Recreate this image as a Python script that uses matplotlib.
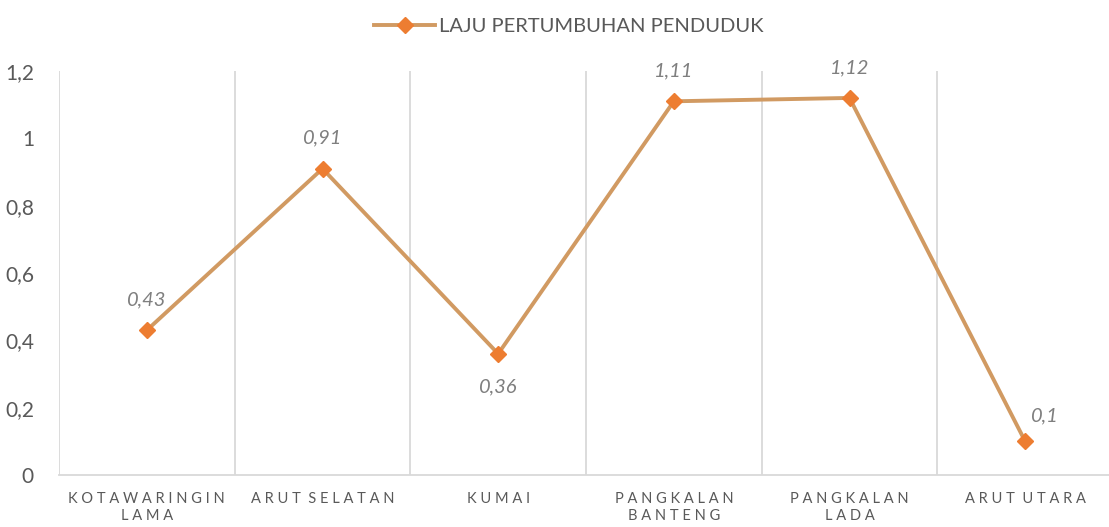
import matplotlib.pyplot as plt
from matplotlib.ticker import FixedLocator, FuncFormatter

plt.rcParams['font.family'] = ['Lato', 'DejaVu Sans']

categories = ['KOTAWARINGIN\nLAMA', 'ARUT SELATAN', 'KUMAI',
              'PANGKALAN\nBANTENG', 'PANGKALAN\nLADA', 'ARUT UTARA']
values = [0.43, 0.91, 0.36, 1.11, 1.12, 0.1]
series_name = 'LAJU PERTUMBUHAN PENDUDUK'

# label offsets in points (dx, dy)
label_offsets = [(0, 22), (0, 22), (0, -24), (0, 22), (0, 22), (14, 18)]

line_color = '#D19A62'
marker_color = '#ED7D31'
text_color = '#595959'
grid_color = '#D9D9D9'


def spaced(s):
    # mimic Excel's wide letter spacing
    return '\n'.join(' '.join(list(part)).replace('   ', '  ') for part in s.split('\n'))


fig = plt.figure(figsize=(11.09, 5.27), dpi=100)
ax = fig.add_axes([59 / 1109, 1 - 475 / 527, 1054 / 1109, 404 / 527])

x = list(range(len(values)))
ax.plot(x, values, color=line_color, lw=2.8, marker='D', ms=8,
        mfc=marker_color, mec=marker_color, label=series_name, zorder=3)

for xi, v, (dx, dy) in zip(x, values, label_offsets):
    ax.annotate(f'{v:g}'.replace('.', ','), (xi, v), xytext=(dx, dy),
                textcoords='offset points', ha='center', va='center',
                fontsize=14.5, style='italic', color='#7F7F7F')

ax.set_xlim(-0.5, len(values) - 0.5)
ax.set_ylim(0, 1.2)
ax.set_yticks([0, 0.2, 0.4, 0.6, 0.8, 1.0, 1.2])
ax.yaxis.set_major_formatter(FuncFormatter(lambda v, p: f'{v:g}'.replace('.', ',')))
ax.set_xticks(x)
ax.set_xticklabels([spaced(c) for c in categories], fontsize=10.5,
                   color=text_color, linespacing=1.3)
ax.xaxis.set_minor_locator(FixedLocator([i - 0.5 for i in range(len(values) + 1)]))
ax.grid(which='minor', axis='x', color=grid_color, lw=1.3)
ax.tick_params(axis='both', which='both', length=0)
ax.tick_params(axis='y', labelsize=15, labelcolor=text_color, pad=18)
ax.tick_params(axis='x', pad=12)

for side in ['top', 'right', 'left']:
    ax.spines[side].set_visible(False)
ax.spines['bottom'].set_color(grid_color)
ax.spines['bottom'].set_linewidth(1.3)

leg = fig.legend(loc='upper center', bbox_to_anchor=(0.513, 1.0), frameon=False,
                 fontsize=14.5, handlelength=3.0, handletextpad=0.2)
for t in leg.get_texts():
    t.set_color(text_color)

fig.savefig('out.png', dpi=100)
